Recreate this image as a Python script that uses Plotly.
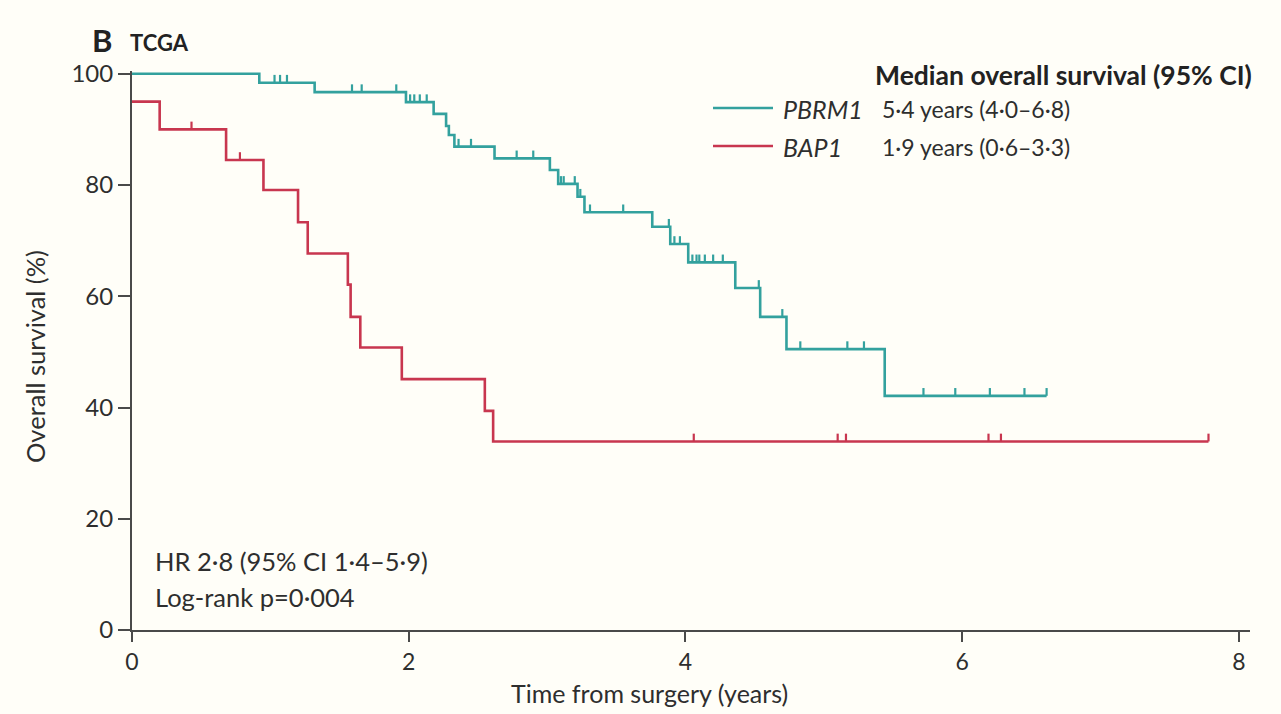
import plotly.graph_objects as go

# ---------------- data ----------------
pbrm1_times = [0, 0.92, 1.32, 1.98, 2.18, 2.27, 2.29, 2.33, 2.62, 3.02, 3.08, 3.22, 3.27,
               3.76, 3.89, 4.02, 4.36, 4.54, 4.73, 5.44]
pbrm1_surv = [100, 98.4, 96.7, 94.9, 92.8, 90.6, 89.0, 86.9, 84.8, 82.7, 80.2, 77.9, 75.1,
              72.5, 69.4, 66.1, 61.5, 56.3, 50.5, 42.1]
pbrm1_end = 6.61
pbrm1_censor = [1.03, 1.07, 1.12, 1.59, 1.66, 1.91, 2.01, 2.04, 2.08, 2.13, 2.36, 2.45,
                2.78, 2.90, 3.10, 3.12, 3.20, 3.24, 3.31, 3.55, 3.88, 3.92, 3.96,
                4.05, 4.08, 4.10, 4.14, 4.20, 4.27, 4.53, 4.70, 4.83, 5.17, 5.29,
                5.72, 5.95, 6.20, 6.45, 6.61]

bap1_times = [0, 0.20, 0.68, 0.95, 1.20, 1.27, 1.56, 1.58, 1.65, 1.95, 2.55, 2.61]
bap1_surv = [95.0, 90.0, 84.5, 79.1, 73.3, 67.7, 62.1, 56.3, 50.8, 45.1, 39.4, 33.9]
bap1_end = 7.78
bap1_censor = [0.43, 0.78, 4.06, 5.10, 5.16, 6.19, 6.28, 7.78]

x_ticks = [0, 2, 4, 6, 8]
y_ticks = [0, 20, 40, 60, 80, 100]

TEAL = "#33A19E"
RED = "#C8364F"
AXIS = "#4A4A4A"
BG = "#FFFEF8"
TXT = "#2E2E2E"
FONT = "Lato"

def surv_at(times, surv, t):
    s = surv[0]
    for ti, si in zip(times, surv):
        if ti <= t:
            s = si
    return s

def censor_segments(times, surv, censors, h=1.4):
    xs, ys = [], []
    for c in censors:
        s = surv_at(times, surv, c)
        xs += [c, c, None]
        ys += [s, s + h, None]
    return xs, ys

fig = go.Figure()
for times, surv, end, cens, col in [
    (pbrm1_times, pbrm1_surv, pbrm1_end, pbrm1_censor, TEAL),
    (bap1_times, bap1_surv, bap1_end, bap1_censor, RED),
]:
    fig.add_trace(go.Scatter(x=times + [end], y=surv + [surv[-1]], mode="lines",
                             line=dict(color=col, width=2.6, shape="hv"),
                             showlegend=False, hoverinfo="skip"))
    cx, cy = censor_segments(times, surv, cens)
    fig.add_trace(go.Scatter(x=cx, y=cy, mode="lines",
                             line=dict(color=col, width=2.2),
                             showlegend=False, hoverinfo="skip"))

# ------------- layout -------------
L, R, T, B = 132, 1250, 71, 630
W, H = 1281, 714

def px(xp):
    return (xp - L) / (R - L)

def py(yp):
    return (B - yp) / (B - T)

fig.update_layout(
    width=W, height=H,
    margin=dict(l=L, r=W - R, t=T, b=H - B),
    paper_bgcolor=BG, plot_bgcolor=BG,
    font=dict(family=FONT, size=24, color=TXT),
    showlegend=False,
)
fig.update_xaxes(range=[0, 8.08], tickvals=x_ticks, ticktext=[str(v) for v in x_ticks],
                 showgrid=False, zeroline=False, showline=True, linecolor=AXIS, linewidth=2,
                 ticks="outside", ticklen=10, tickwidth=1.5, tickcolor=AXIS,
                 tickfont=dict(family=FONT, size=23, color=TXT))
fig.update_yaxes(range=[0, 100.5], tickvals=y_ticks, ticktext=[str(v) for v in y_ticks],
                 showgrid=False, zeroline=False, showline=True, linecolor=AXIS, linewidth=2,
                 ticks="outside", ticklen=12, tickwidth=1.5, tickcolor=AXIS,
                 tickfont=dict(family=FONT, size=24, color=TXT))

ann = []
def text(x, y, t, size=20, bold=False, italic=False, xanchor="left", angle=0, color=TXT):
    s = t
    if bold:
        s = "<b>" + s + "</b>"
    if italic:
        s = "<i>" + s + "</i>"
    ann.append(dict(x=px(x), y=py(y), xref="paper", yref="paper", text=s, showarrow=False,
                    xanchor=xanchor, yanchor="middle", textangle=angle,
                    font=dict(family=FONT, size=size, color=color)))

text(90, 40, "B", size=31, bold=True, color="#222222")
text(128, 42, "TCGA", size=22, bold=True, color="#222222")
text(873, 75, "Median overall survival (95% CI)", size=26.5, bold=True, color="#222222")
text(781, 109, "PBRM1", size=25, italic=True)
text(781, 147, "BAP1", size=25, italic=True)
text(880, 109, "5·4 years (4·0–6·8)", size=23)
text(880, 147, "1·9 years (0·6–3·3)", size=23)
text(153, 561, "HR 2·8 (95% CI 1·4–5·9)", size=25.5)
text(153, 597, "Log-rank p=0·004", size=25.5)
text(649, 693, "Time from surgery (years)", size=25, xanchor="center")
text(35, 357, "Overall survival (%)", size=25.5, xanchor="center", angle=-90)
fig.update_layout(annotations=ann)

shapes = []
for yy, col in [(108, TEAL), (146, RED)]:
    shapes.append(dict(type="line", xref="paper", yref="paper", x0=px(713), x1=px(773),
                       y0=py(yy), y1=py(yy), line=dict(color=col, width=2.6)))
fig.update_layout(shapes=shapes)

fig.write_html("out.html")
